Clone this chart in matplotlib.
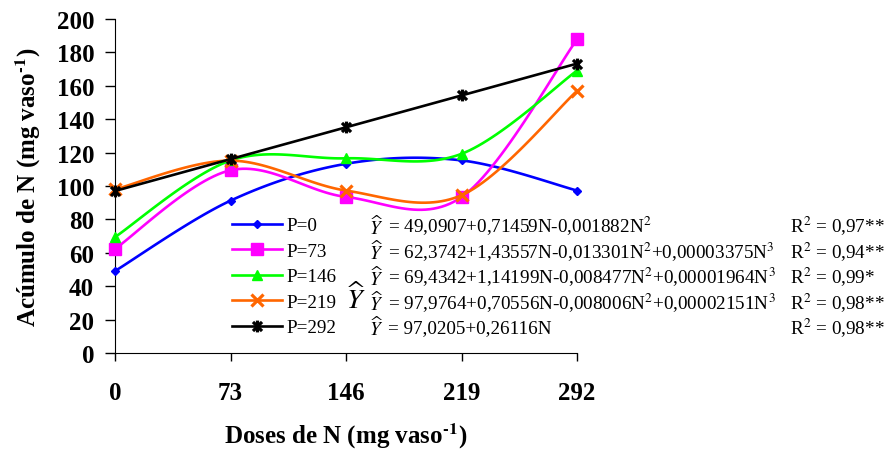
import matplotlib

matplotlib.use("Agg")

import matplotlib.pyplot as plt
import numpy as np
from matplotlib.path import Path

plt.rcParams["font.family"] = "Liberation Serif"
plt.rcParams["mathtext.fontset"] = "stix"

doses = [0, 73, 146, 219, 292]
dose_labels = ["0", "73", "146", "219", "292"]

# fitted N accumulation (mg vaso-1) for each P dose
p0 = [49.09, 91.22, 113.30, 115.33, 97.28]
p73 = [62.37, 109.42, 93.47, 93.32, 187.74]
p146 = [69.43, 115.27, 116.58, 119.25, 169.09]
p219 = [97.98, 115.20, 97.27, 94.45, 156.92]
p292 = [97.02, 116.09, 135.15, 154.21, 173.28]

series_labels = ["P=0", "P=73", "P=146", "P=219", "P=292"]
equations = [
    r"= 49,0907+0,71459N-0,001882N$^2$",
    r"= 62,3742+1,43557N-0,013301N$^2$+0,00003375N$^3$",
    r"= 69,4342+1,14199N-0,008477N$^2$+0,00001964N$^3$",
    r"= 97,9764+0,70556N-0,008006N$^2$+0,00002151N$^3$",
    r"= 97,0205+0,26116N",
]
r2_labels = [
    r"R$^2$ = 0,97**",
    r"R$^2$ = 0,94**",
    r"R$^2$ = 0,99*",
    r"R$^2$ = 0,98**",
    r"R$^2$ = 0,98**",
]

STEPS = 30
FS_TICK = 18
FS_LEG = 13.8

# asterisk marker: an x crossed by a vertical bar
STAR = Path(
    [(-1, -1), (1, 1), (-1, 1), (1, -1), (0, -1.3), (0, 1.3)],
    [Path.MOVETO, Path.LINETO, Path.MOVETO, Path.LINETO, Path.MOVETO, Path.LINETO],
)


def smooth(x, y, steps=STEPS):
    """Catmull-Rom style bezier through the points (spreadsheet 'smoothed line')."""
    pts = np.column_stack([x, y]).astype(float)
    padded = np.vstack([pts[0], pts, pts[-1]])
    t = np.linspace(0, 1, steps)[:, None]
    parts = []
    for i in range(len(pts) - 1):
        a, d = padded[i + 1], padded[i + 2]
        b = a + (padded[i + 2] - padded[i]) / 6
        c = d - (padded[i + 3] - padded[i + 1]) / 6
        seg = (1 - t) ** 3 * a + 3 * (1 - t) ** 2 * t * b + 3 * (1 - t) * t ** 2 * c + t ** 3 * d
        parts.append(seg if i == 0 else seg[1:])
    curve = np.vstack(parts)
    return curve[:, 0], curve[:, 1]


styles = [
    dict(color="#0000FF", marker="D", ms=4.5, mew=1),
    dict(color="#FF00FF", marker="s", ms=8, mew=1),
    dict(color="#00FF00", marker="^", ms=7, mew=1),
    dict(color="#FF6600", marker="x", ms=8.5, mew=2.3),
    dict(color="#000000", marker=STAR, ms=8.5, mew=2.3),
]

fig = plt.figure(figsize=(8.85, 4.52), dpi=100)
ax = fig.add_axes([115 / 885, 1 - 354 / 452, (577 - 115) / 885, (354 - 20) / 452])

marks = list(range(0, len(doses) * (STEPS - 1), STEPS - 1))
handles = []
for values, st in zip([p0, p73, p146, p219, p292], styles):
    sx, sy = smooth(doses, values)
    (line,) = ax.plot(
        sx, sy, color=st["color"], lw=1.9, marker=st["marker"], ms=st["ms"],
        mew=st["mew"], mec=st["color"], mfc=st["color"], markevery=marks,
        clip_on=False, zorder=3,
    )
    handles.append(line)

ax.set_xlim(0, 292)
ax.set_ylim(0, 200)
ax.set_xticks(doses)
ax.set_xticklabels(dose_labels)
ax.set_yticks(range(0, 201, 20))
ax.spines["top"].set_visible(False)
ax.spines["right"].set_visible(False)
ax.tick_params(axis="x", direction="out", length=6, width=1, pad=14, labelsize=FS_TICK)
ax.tick_params(axis="y", direction="out", length=7, width=1, pad=8, labelsize=FS_TICK)
for lab in ax.get_xticklabels() + ax.get_yticklabels():
    lab.set_fontweight("bold")

# superscript with a plain hyphen rather than a minus sign
sup = "$^{\\mathbf{\u2010" + "1}}$"
ax.set_xlabel("Doses de N (mg vaso" + sup + ")", fontsize=18, fontweight="bold", labelpad=12)
ax.set_ylabel("Acúmulo de N (mg vaso" + sup + ")", fontsize=18, fontweight="bold", labelpad=10)

leg = fig.legend(
    handles, series_labels, loc="upper left", bbox_to_anchor=(232 / 885, 1 - 218 / 452),
    frameon=False, fontsize=FS_LEG, handlelength=2.6, handletextpad=0.26,
    labelspacing=0.42, borderpad=0, borderaxespad=0,
)

fig.canvas.draw()
H = fig.bbox.height
for txt, eq, r2 in zip(leg.get_texts(), equations, r2_labels):
    bb = txt.get_window_extent()
    yc = (bb.y0 + bb.y1) / 2 / H
    fig.text(369 / 885, yc, r"$\widehat{Y}$", fontsize=FS_LEG, va="center", ha="left")
    fig.text(388 / 885, yc, eq, fontsize=FS_LEG, va="center", ha="left")
    fig.text(790 / 885, yc, r2, fontsize=FS_LEG, va="center", ha="left")

# stray Y-hat sitting left of the P=219 equation
bb = leg.get_texts()[3].get_window_extent()
fig.text(346 / 885, (bb.y0 + bb.y1) / 2 / H + 4 / H, r"$\widehat{Y}$", fontsize=20, va="center", ha="left")

fig.savefig("out.png", dpi=100)
plt.close(fig)
